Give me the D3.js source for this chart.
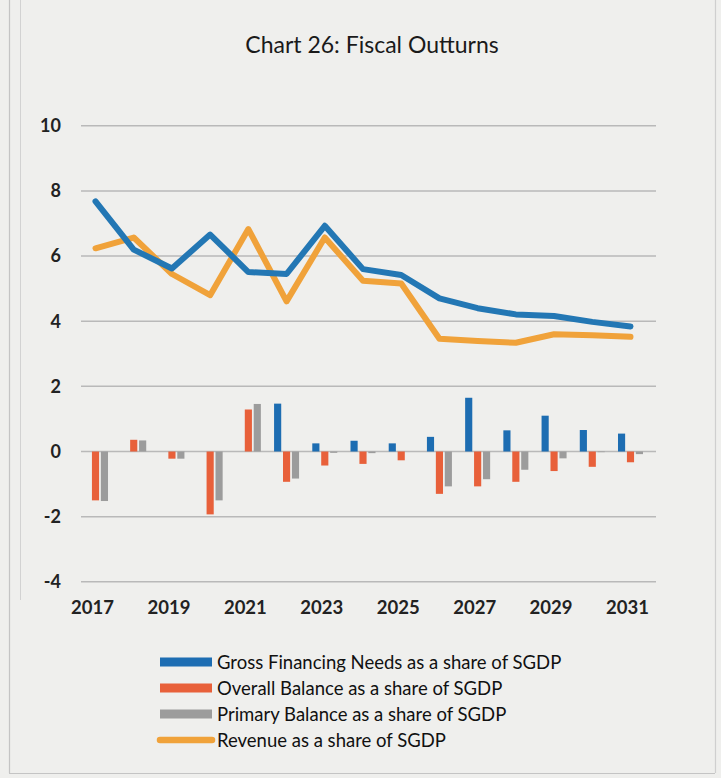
<!DOCTYPE html>
<html><head><meta charset="utf-8">
<script src="https://cdn.jsdelivr.net/npm/d3@7"></script>
<style>
html,body{margin:0;padding:0;background:#efefed;}
svg{display:block;font-family:Lato,"Open Sans",sans-serif;}
</style></head>
<body>
<svg id="c" width="721" height="778"></svg>
<script>
const years = [2017,2018,2019,2020,2021,2022,2023,2024,2025,2026,2027,2028,2029,2030,2031];
const tickYears = [2017,2019,2021,2023,2025,2027,2029,2031];
const yTicks = [-4,-2,0,2,4,6,8,10];
const grossFinancing = [0,0,0,0,0,1.47,0.25,0.33,0.25,0.45,1.65,0.65,1.1,0.66,0.55];
const overallBalance = [-1.5,0.36,-0.22,-1.93,1.29,-0.93,-0.43,-0.38,-0.27,-1.3,-1.07,-0.93,-0.6,-0.47,-0.33];
const primaryBalance = [-1.52,0.34,-0.22,-1.5,1.46,-0.83,-0.04,-0.05,0,-1.07,-0.85,-0.56,-0.21,-0.02,-0.08];
const gfnLine = [7.68,6.2,5.62,6.66,5.51,5.45,6.93,5.6,5.42,4.7,4.4,4.21,4.16,3.98,3.84];
const revenue = [6.24,6.57,5.45,4.8,6.83,4.61,6.57,5.24,5.16,3.46,3.39,3.34,3.6,3.57,3.52];
const legendLabels = ["Gross Financing Needs as a share of SGDP","Overall Balance as a share of SGDP","Primary Balance as a share of SGDP","Revenue as a share of SGDP"];
const colors = {blue:"#1d6db2", orange:"#e8603a", gray:"#9c9c9c", rev:"#f0a23a", blueLine:"#2377b4"};

const svg = d3.select("#c");
// page frame (scan)
svg.append("line").attr("x1",9.5).attr("x2",9.5).attr("y1",0).attr("y2",773).attr("stroke","#c4c4c4").attr("stroke-width",1.2);
svg.append("line").attr("x1",20.5).attr("x2",20.5).attr("y1",0).attr("y2",600).attr("stroke","#d2d2d2").attr("stroke-width",1);
svg.append("line").attr("x1",9).attr("x2",715).attr("y1",773.5).attr("y2",773.5).attr("stroke","#c4c4c4").attr("stroke-width",1.2);
svg.append("line").attr("x1",715.5).attr("x2",715.5).attr("y1",0).attr("y2",773).attr("stroke","#cfcfcf").attr("stroke-width",1.2);

const x = d3.scaleBand().domain(years).range([76.4, 649.6]).padding(0);
const cx = d => x(d) + x.bandwidth()/2;
const y = d3.scaleLinear().domain([-4,10]).range([581.8,125.8]);
const xb = d3.scaleBand().domain([0,1,2]).range([-12.5,12.5]).paddingInner(0.2);

// gridlines
svg.append("g").selectAll("line").data(yTicks).join("line")
  .attr("x1",81).attr("x2",656).attr("y1",d=>y(d)).attr("y2",d=>y(d))
  .attr("stroke","#b9b9b9").attr("stroke-width",1.5);

// y labels
svg.append("g").selectAll("text").data(yTicks).join("text")
  .attr("x",61).attr("y",d=>y(d)).attr("dy","0.35em").attr("text-anchor","end")
  .attr("font-size",18).attr("font-weight",700).attr("fill","#222")
  .text(d=>d);

// x axis labels
const xAxis = d3.axisBottom(x).tickValues(tickYears).tickSize(0).tickPadding(0);
const gx = svg.append("g").attr("transform","translate(-3,601)").call(xAxis);
gx.select(".domain").remove();
gx.selectAll("text").attr("font-size",18.5).attr("font-weight",700).attr("fill","#222")
  .attr("font-family","Lato,'Open Sans',sans-serif").attr("dy","0.71em");

// bars
const barData = [grossFinancing, overallBalance, primaryBalance];
const barColors = [colors.blue, colors.orange, colors.gray];
barData.forEach((arr,si)=>{
  svg.append("g").selectAll("rect").data(arr.map((v,i)=>({yr:years[i],v}))).join("rect")
    .attr("x",d=>cx(d.yr)+xb(si))
    .attr("width",xb.bandwidth())
    .attr("y",d=>Math.min(y(d.v),y(0)))
    .attr("height",d=>Math.abs(y(d.v)-y(0)))
    .attr("fill",barColors[si]);
});

// lines
const line = d3.line().x((d,i)=>cx(years[i])).y(d=>y(d));
svg.append("path").datum(revenue).attr("d",line).attr("fill","none")
  .attr("stroke",colors.rev).attr("stroke-width",6).attr("stroke-linejoin","round").attr("stroke-linecap","round");
svg.append("path").datum(gfnLine).attr("d",line).attr("fill","none")
  .attr("stroke",colors.blueLine).attr("stroke-width",6).attr("stroke-linejoin","round").attr("stroke-linecap","round");

// title
svg.append("text").attr("x",372).attr("y",53).attr("text-anchor","middle")
  .attr("font-size",23).attr("fill","#1a1a1a").text("Chart 26: Fiscal Outturns");

// legend
const ly = [662,688,714,740];
const lg = svg.append("g");
[colors.blue, colors.orange, colors.gray].forEach((c,i)=>{
  lg.append("rect").attr("x",160).attr("y",ly[i]-4.5).attr("width",52).attr("height",9).attr("fill",c);
});
lg.append("line").attr("x1",160).attr("x2",212).attr("y1",ly[3]).attr("y2",ly[3])
  .attr("stroke",colors.rev).attr("stroke-width",6.5).attr("stroke-linecap","round");
lg.selectAll("text").data(legendLabels).join("text")
  .attr("x",217).attr("y",(d,i)=>ly[i]).attr("dy","0.38em")
  .attr("font-size",18.5).attr("fill","#111").text(d=>d);
</script>
</body></html>
